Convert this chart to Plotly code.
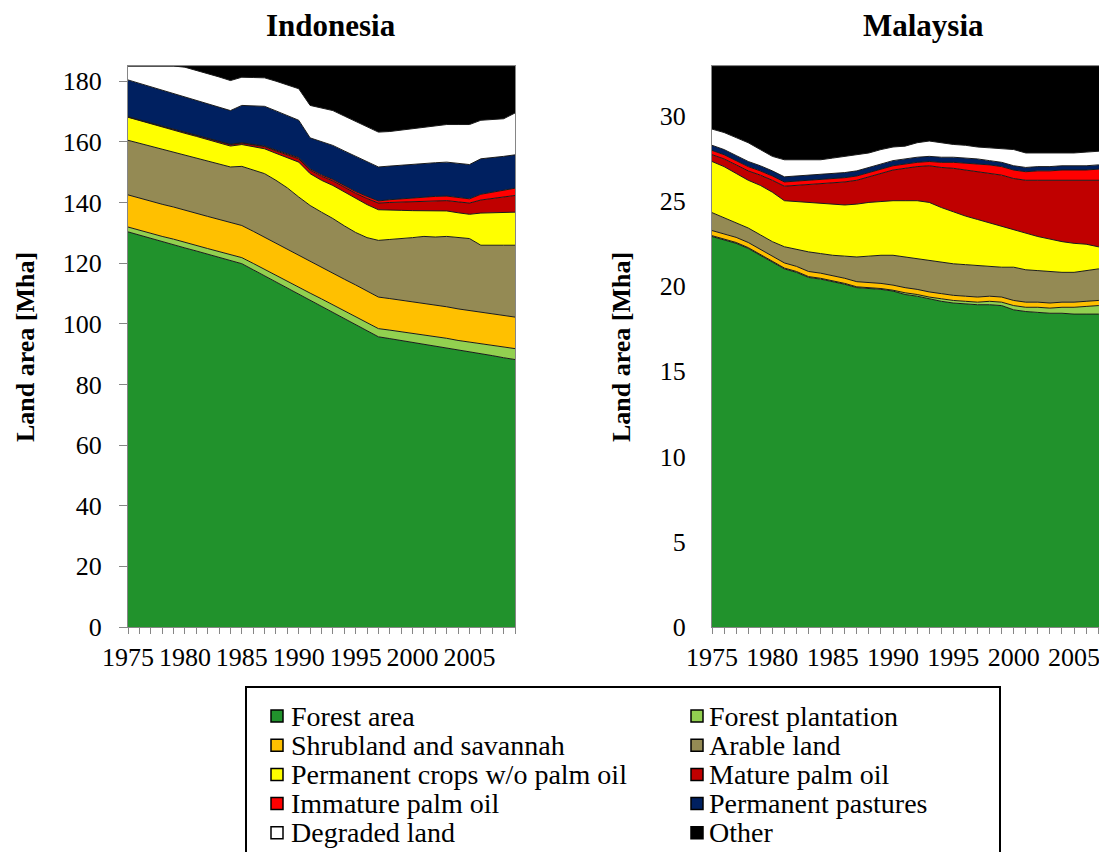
import plotly.graph_objects as go

# ---------------- data ----------------
years = list(range(1975, 2010))

series_names = [
    "Forest area", "Forest plantation", "Shrubland and savannah", "Arable land",
    "Permanent crops w/o palm oil", "Mature palm oil", "Immature palm oil",
    "Permanent pastures", "Degraded land", "Other",
]
series_colors = [
    "#21922C", "#92D050", "#FFC000", "#948A54", "#FFFF00",
    "#C00000", "#FF0000", "#002060", "#FFFFFF", "#000000",
]

# Indonesia [Mha]
idn_forest = [130.3, 129.2, 128.2, 127.1, 126.1, 125.0, 124.0, 122.9, 121.9, 120.8,
              119.8, 117.8, 115.8, 113.8, 111.8, 109.8, 107.8, 105.8, 103.7, 101.7,
              99.7, 97.7, 95.7, 95.1, 94.5, 93.8, 93.2, 92.6, 92.0, 91.3,
              90.7, 90.1, 89.5, 88.8, 88.2]
idn_plantation = [1.6, 1.6, 1.7, 1.7, 1.8, 1.8, 1.8, 1.9, 1.9, 2.0,
                  2.0, 2.1, 2.1, 2.2, 2.2, 2.3, 2.3, 2.4, 2.5, 2.5,
                  2.6, 2.6, 2.7, 2.8, 2.9, 2.9, 3.0, 3.1, 3.2, 3.2,
                  3.3, 3.4, 3.4, 3.5, 3.6]
idn_shrub = [10.6, 10.6, 10.6, 10.6, 10.6, 10.6, 10.6, 10.6, 10.6, 10.6,
             10.6, 10.6, 10.6, 10.6, 10.6, 10.6, 10.5, 10.5, 10.5, 10.5,
             10.5, 10.5, 10.4, 10.4, 10.4, 10.4, 10.4, 10.4, 10.4, 10.4,
             10.4, 10.4, 10.4, 10.4, 10.4]
idn_arable = [18.0, 18.1, 18.0, 18.2, 18.1, 18.2, 18.2, 18.2, 18.3, 18.3,
              19.5, 20.3, 21.0, 20.7, 20.2, 19.1, 18.4, 18.1, 18.0, 17.6,
              17.3, 17.6, 18.7, 19.5, 20.2, 21.3, 22.2, 22.5, 23.2, 23.6,
              23.7, 22.0, 22.5, 23.2, 23.7]
idn_perm_crops = [7.6, 7.5, 7.5, 7.3, 7.3, 7.2, 7.2, 7.1, 7.0, 6.9,
                  7.2, 7.6, 8.2, 8.9, 10.0, 11.5, 10.5, 10.5, 10.9, 11.2,
                  11.1, 10.9, 10.1, 9.8, 9.4, 8.9, 8.4, 8.6, 8.4, 8.1,
                  8.0, 10.6, 10.8, 10.8, 10.9]
idn_mature_palm = [0.1, 0.1, 0.2, 0.2, 0.2, 0.3, 0.3, 0.4, 0.4, 0.5,
                   0.5, 0.6, 0.7, 0.8, 0.9, 1.1, 1.2, 1.3, 1.5, 1.6,
                   1.8, 2.0, 2.2, 2.4, 2.7, 2.9, 3.0, 3.2, 3.4, 3.6,
                   3.7, 4.3, 4.7, 5.1, 5.5]
idn_immature_palm = [0.1, 0.1, 0.1, 0.1, 0.1, 0.1, 0.1, 0.1, 0.1, 0.1,
                     0.1, 0.2, 0.2, 0.3, 0.3, 0.4, 0.4, 0.5, 0.5, 0.6,
                     0.6, 0.7, 0.7, 0.9, 1.1, 1.4, 1.6, 1.6, 1.5, 1.4,
                     1.4, 1.9, 2.1, 2.2, 2.4]
idn_pastures = [12.1, 12.1, 11.9, 11.8, 11.7, 11.6, 11.5, 11.4, 11.2, 11.1,
                12.3, 12.7, 13.1, 12.9, 12.6, 12.3, 10.2, 10.9, 11.2, 11.3,
                11.6, 11.5, 11.2, 11.1, 11.1, 11.1, 11.2, 11.1, 11.2, 11.3,
                11.3, 11.7, 11.3, 11.2, 11.0]
idn_degraded = [4.6, 5.7, 6.8, 8.0, 9.1, 9.8, 9.9, 9.9, 10.0, 9.9,
                9.3, 9.3, 9.4, 9.8, 10.2, 10.4, 10.7, 11.2, 11.5, 11.5,
                11.6, 11.5, 11.5, 11.4, 11.6, 11.7, 11.9, 12.2, 12.4, 12.8,
                13.2, 12.7, 12.7, 12.4, 13.8]
idn_other = [0.0, 0.0, 0.0, 0.0, 0.0, 0.4, 1.4, 2.5, 3.6, 4.8,
             3.7, 3.8, 3.9, 5.0, 6.2, 7.5, 13.0, 13.8, 14.7, 16.5,
             18.2, 20.0, 21.8, 21.6, 21.1, 20.6, 20.1, 19.7, 19.3, 19.3,
             19.3, 17.9, 17.6, 17.4, 15.5]

# Malaysia [Mha]
mys_forest = [22.9, 22.7, 22.5, 22.2, 21.8, 21.4, 21.0, 20.8, 20.5, 20.4,
              20.25, 20.1, 19.9, 19.85, 19.8, 19.7, 19.5, 19.4, 19.25, 19.1,
              19.0, 18.95, 18.9, 18.9, 18.85, 18.6, 18.5, 18.45, 18.4, 18.4,
              18.35, 18.35, 18.35, 18.3, 18.3]
mys_plantation = [0.05, 0.05, 0.05, 0.05, 0.05, 0.05, 0.05, 0.05, 0.05, 0.05,
                  0.05, 0.05, 0.05, 0.05, 0.05, 0.05, 0.1, 0.1, 0.1, 0.15,
                  0.15, 0.15, 0.15, 0.2, 0.2, 0.25, 0.25, 0.3, 0.3, 0.35,
                  0.4, 0.45, 0.5, 0.5, 0.55]
mys_shrub = [0.3, 0.3, 0.3, 0.3, 0.3, 0.3, 0.3, 0.3, 0.3, 0.3,
             0.3, 0.3, 0.3, 0.3, 0.3, 0.3, 0.3, 0.3, 0.3, 0.3,
             0.3, 0.3, 0.3, 0.3, 0.3, 0.3, 0.3, 0.3, 0.3, 0.3,
             0.3, 0.3, 0.3, 0.3, 0.3]
mys_arable = [1.05, 0.95, 0.85, 0.85, 0.85, 0.85, 0.95, 1.0, 1.15, 1.15,
              1.2, 1.3, 1.45, 1.55, 1.65, 1.75, 1.8, 1.8, 1.85, 1.85,
              1.85, 1.85, 1.85, 1.75, 1.75, 1.95, 1.9, 1.85, 1.85, 1.75,
              1.75, 1.8, 1.85, 1.9, 1.9]
mys_perm_crops = [3.0, 3.0, 2.9, 2.8, 2.9, 2.9, 2.7, 2.8, 2.9, 2.95,
                  3.0, 3.0, 3.1, 3.15, 3.15, 3.2, 3.3, 3.4, 3.4, 3.2,
                  3.05, 2.85, 2.7, 2.55, 2.4, 2.2, 2.15, 2.0, 1.9, 1.8,
                  1.7, 1.55, 1.3, 1.2, 1.05]
mys_mature_palm = [0.4, 0.45, 0.5, 0.55, 0.6, 0.7, 0.85, 0.95, 1.05, 1.15,
                   1.25, 1.35, 1.4, 1.5, 1.65, 1.8, 1.9, 2.0, 2.15, 2.35,
                   2.55, 2.7, 2.8, 2.9, 3.0, 3.0, 3.1, 3.3, 3.45, 3.6,
                   3.7, 3.75, 3.9, 4.0, 4.1]
mys_immature_palm = [0.25, 0.25, 0.25, 0.25, 0.25, 0.25, 0.25, 0.25, 0.25, 0.25,
                     0.25, 0.25, 0.25, 0.25, 0.25, 0.25, 0.25, 0.25, 0.25, 0.3,
                     0.35, 0.4, 0.45, 0.5, 0.5, 0.5, 0.5, 0.55, 0.55, 0.6,
                     0.6, 0.6, 0.65, 0.65, 0.65]
mys_pastures = [0.3, 0.3, 0.3, 0.3, 0.3, 0.3, 0.3, 0.3, 0.3, 0.3,
                0.3, 0.3, 0.3, 0.3, 0.3, 0.3, 0.3, 0.3, 0.3, 0.3,
                0.3, 0.3, 0.3, 0.25, 0.25, 0.25, 0.25, 0.25, 0.25, 0.25,
                0.25, 0.25, 0.25, 0.25, 0.25]
mys_degraded = [0.95, 1.0, 1.05, 1.1, 0.95, 0.85, 1.0, 0.95, 0.9, 0.85,
                0.9, 0.95, 0.95, 0.85, 0.85, 0.8, 0.75, 0.85, 0.9, 0.85,
                0.75, 0.75, 0.7, 0.75, 0.8, 0.95, 0.85, 0.8, 0.8, 0.75,
                0.75, 0.8, 0.8, 0.8, 0.85]
mys_other = [3.7, 3.9, 4.2, 4.5, 4.9, 5.3, 5.5, 5.5, 5.5, 5.5,
             5.4, 5.3, 5.2, 5.1, 4.9, 4.75, 4.7, 4.5, 4.4, 4.5,
             4.6, 4.65, 4.75, 4.8, 4.85, 4.9, 5.1, 5.1, 5.1, 5.1,
             5.1, 5.05, 5.0, 5.0, 4.95]

idn_series = [idn_forest, idn_plantation, idn_shrub, idn_arable, idn_perm_crops,
              idn_mature_palm, idn_immature_palm, idn_pastures, idn_degraded, idn_other]
mys_series = [mys_forest, mys_plantation, mys_shrub, mys_arable, mys_perm_crops,
              mys_mature_palm, mys_immature_palm, mys_pastures, mys_degraded, mys_other]

# ---------------- figure ----------------
# page body has an 8px default margin: the figure is 8px smaller and all
# positions below are given in window pixels, shifted by OFF.
OFF = 8
W, H = 1107 - OFF, 852 - OFF
FONT = "Liberation Serif, Times New Roman, serif"
AXIS_GRAY = "#868686"


def px(x):
    return (x - OFF) / W


def py(y):
    return 1 - (y - OFF) / H


fig = go.Figure()
for name, color, vals in zip(series_names, series_colors, idn_series):
    fig.add_trace(go.Scatter(
        x=years, y=vals, name=name, mode="lines", stackgroup="idn",
        fillcolor=color, line=dict(color="#1a1a1a", width=1),
        xaxis="x", yaxis="y", showlegend=False))
for name, color, vals in zip(series_names, series_colors, mys_series):
    fig.add_trace(go.Scatter(
        x=years, y=vals, name=name, mode="lines", stackgroup="mys",
        fillcolor=color, line=dict(color="#1a1a1a", width=1),
        xaxis="x2", yaxis="y2", showlegend=False))

ydom = [py(627), py(66)]
xcommon = dict(
    tick0=1975, dtick=5, ticks="outside", ticklen=6, tickcolor=AXIS_GRAY,
    minor=dict(tick0=1975, dtick=1, ticks="outside", ticklen=6, tickcolor=AXIS_GRAY),
    showline=True, linecolor=AXIS_GRAY, linewidth=1, mirror=True,
    showgrid=False, zeroline=False, ticklabelstandoff=1, automargin=False,
    tickfont=dict(family=FONT, size=26, color="black"),
)
fig.update_layout(
    width=W, height=H,
    margin=dict(l=0, r=0, t=0, b=0, pad=0),
    paper_bgcolor="white", plot_bgcolor="white",
    showlegend=False,
    xaxis=dict(domain=[px(128), px(515)], range=[1975, 2009], anchor="y", **xcommon),
    yaxis=dict(domain=ydom, range=[0, 185], tick0=0, dtick=20, ticks="outside",
               ticklen=8, tickcolor=AXIS_GRAY, showline=True, linecolor=AXIS_GRAY,
               linewidth=1, mirror=True, showgrid=False, zeroline=False,
               ticklabelstandoff=12, anchor="x", automargin=False,
               tickfont=dict(family=FONT, size=26, color="black")),
    xaxis2=dict(domain=[px(712), 1.0], range=[1975, 2007.73], anchor="y2", **xcommon),
    yaxis2=dict(domain=ydom, range=[0, 32.9], tick0=0, dtick=5, ticks="",
                showline=True, linecolor=AXIS_GRAY, linewidth=1, mirror=False,
                showgrid=False, zeroline=False, ticklabelstandoff=20, anchor="x2",
                automargin=False,
                tickfont=dict(family=FONT, size=26, color="black")),
)

annotations = [
    dict(text="<b>Indonesia</b>", x=px(331), y=py(25), xref="paper", yref="paper",
         showarrow=False, xanchor="center", yanchor="middle",
         font=dict(family=FONT, size=31, color="black")),
    dict(text="<b>Malaysia</b>", x=px(923), y=py(25), xref="paper", yref="paper",
         showarrow=False, xanchor="center", yanchor="middle",
         font=dict(family=FONT, size=31, color="black")),
    dict(text="<b>Land area [Mha]</b>", x=px(25), y=py(347), xref="paper", yref="paper",
         showarrow=False, textangle=-90, xanchor="center", yanchor="middle",
         font=dict(family=FONT, size=26, color="black")),
    dict(text="<b>Land area [Mha]</b>", x=px(621), y=py(347), xref="paper", yref="paper",
         showarrow=False, textangle=-90, xanchor="center", yanchor="middle",
         font=dict(family=FONT, size=26, color="black")),
]

shapes = [
    dict(type="rect", xref="paper", yref="paper", x0=px(246), x1=px(1000),
         y0=py(875), y1=py(687), line=dict(color="black", width=2),
         fillcolor="rgba(0,0,0,0)", layer="above"),
]

# manual legend: two columns, row-wise order
col_sq_x = [271, 691]
col_tx_x = [289, 707]
row_y0 = 716
row_dy = 29.2
sq = 12
for k, (name, color) in enumerate(zip(series_names, series_colors)):
    row, col = divmod(k, 2)
    cy = row_y0 + row * row_dy
    x0 = col_sq_x[col]
    shapes.append(dict(type="rect", xref="paper", yref="paper",
                       x0=px(x0), x1=px(x0 + sq), y0=py(cy + sq / 2), y1=py(cy - sq / 2),
                       fillcolor=color, line=dict(color="black", width=1.5)))
    annotations.append(dict(text=name, x=px(col_tx_x[col]), y=py(cy), xref="paper",
                            yref="paper", showarrow=False, xanchor="left",
                            yanchor="middle",
                            font=dict(family=FONT, size=28, color="black")))

fig.update_layout(annotations=annotations, shapes=shapes)

fig.write_html("out.html")
